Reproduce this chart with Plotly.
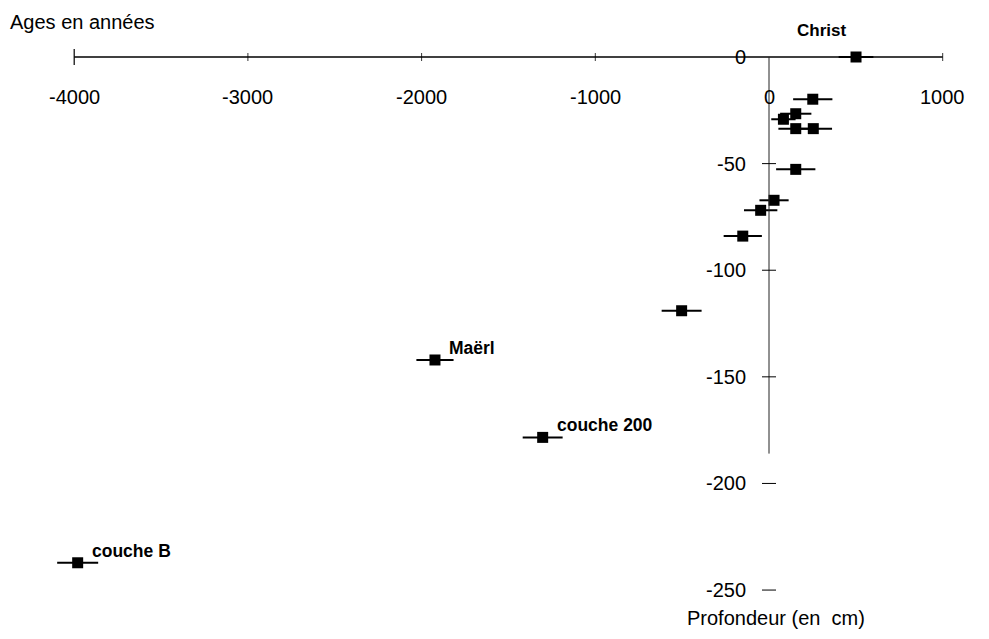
import plotly.graph_objects as go

# ---- data ----
ages = [501, 252, 154, 83, 154, 255, 154, 29, -48, -151, -503, -1923, -1303, -3980]
depths = [0, -19.8, -26.6, -29.2, -33.6, -33.6, -52.7, -67.2, -71.9, -84, -119, -142.1, -178.4, -237.2]
age_err = [100, 113, 90, 70, 100, 108, 113, 84, 96, 110, 115, 107, 115, 118]
point_names = ["", "", "", "", "", "", "", "", "", "", "", "Maërl", "couche 200", "couche B"]

x_ticks = [-4000, -3000, -2000, -1000, 0, 1000]
x_tick_labels = ["-4000", "-3000", "-2000", "-1000", "0", "1000"]
y_ticks = [0, -50, -100, -150, -200, -250]
y_tick_labels = ["0", "-50", "-100", "-150", "-200", "-250"]

FONT = "Liberation Sans, Arial, sans-serif"

fig = go.Figure()
fig.add_trace(go.Scatter(
    x=ages, y=depths, mode="markers",
    marker=dict(symbol="square", size=11, color="black"),
    error_x=dict(type="data", array=age_err, color="black", thickness=2, width=0),
    showlegend=False, hoverinfo="x+y",
))

shapes = []
# horizontal (age) axis
shapes.append(dict(type="line", xref="x", yref="y", x0=-4000, x1=1000, y0=0, y1=0,
                   line=dict(color="black", width=1.5)))
for t in x_ticks:
    if t == 0:
        continue
    big = (t == x_ticks[0])
    shapes.append(dict(type="line", xref="x", yref="y", ysizemode="pixel", yanchor=0,
                       x0=t, x1=t, y0=-8 if big else -4, y1=8 if big else 4,
                       line=dict(color="black", width=1.2 if big else 0.8)))
# vertical (depth) axis
shapes.append(dict(type="line", xref="x", yref="y", x0=0, x1=0, y0=0, y1=-186,
                   line=dict(color="#222", width=1)))
for t in y_ticks[1:]:
    shapes.append(dict(type="line", xref="x", yref="y", xsizemode="pixel", xanchor=0,
                       x0=-7, x1=7, y0=t, y1=t, line=dict(color="black", width=1)))

annotations = []
for t, lab in zip(x_ticks, x_tick_labels):
    annotations.append(dict(x=t, y=0, xref="x", yref="y", text=lab, showarrow=False,
                            yshift=-40, xanchor="center", yanchor="middle",
                            font=dict(family=FONT, size=20, color="black")))
for t, lab in zip(y_ticks, y_tick_labels):
    annotations.append(dict(x=0, y=t, xref="x", yref="y", text=lab, showarrow=False,
                            xshift=-21, xanchor="right", yanchor="middle",
                            font=dict(family=FONT, size=20, color="black")))
for xa, ya, name in zip(ages, depths, point_names):
    if name:
        annotations.append(dict(x=xa, y=ya, xref="x", yref="y", text=name, showarrow=False,
                                xshift=12, yshift=12, xanchor="left", yanchor="middle",
                                font=dict(family=FONT, size=17.5, color="black", weight="bold")))
annotations.append(dict(x=ages[0], y=0, xref="x", yref="y", text="Christ", showarrow=False,
                        xshift=-35, yshift=27, xanchor="center", yanchor="middle",
                        font=dict(family=FONT, size=17, color="black", weight="bold")))
annotations.append(dict(x=0, y=1, xref="paper", yref="paper", text="Ages en années",
                        showarrow=False, xshift=0, yshift=-14, xanchor="left", yanchor="middle",
                        font=dict(family=FONT, size=20, color="black")))
annotations.append(dict(x=0, y=-250, xref="x", yref="y", text="Profondeur (en  cm)",
                        showarrow=False, xshift=-84, yshift=-28, xanchor="left", yanchor="middle",
                        font=dict(family=FONT, size=20, color="black")))

# page body has an 8px margin: the figure is sized to fill the rest of the window
fig.update_layout(
    width=973, height=623,
    margin=dict(l=0, r=0, t=0, b=0),
    paper_bgcolor="white", plot_bgcolor="white",
    xaxis=dict(range=[-4381.1, 1220.5], visible=False, fixedrange=True),
    yaxis=dict(range=[-269.2, 22.98], visible=False, fixedrange=True),
    shapes=shapes, annotations=annotations,
)

fig.write_html("out.html")
